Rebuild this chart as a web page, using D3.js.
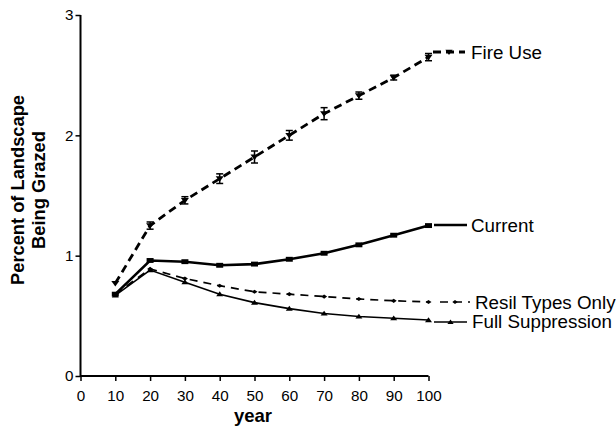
<!DOCTYPE html>
<html><head><meta charset="utf-8">
<script src="https://cdn.jsdelivr.net/npm/d3@7"></script>
<style>body{margin:0;background:#fff}</style>
</head><body>
<svg id="c" width="616" height="427"></svg>
<script>
const years = [10,20,30,40,50,60,70,80,90,100];
const fireUse = [0.77,1.25,1.46,1.64,1.82,2.00,2.18,2.33,2.48,2.65];
const fireUseErr = [0.02,0.03,0.03,0.04,0.05,0.04,0.05,0.03,0.02,0.03];
const current = [0.68,0.96,0.95,0.92,0.93,0.97,1.02,1.09,1.17,1.25];
const resil = [0.68,0.89,0.81,0.75,0.70,0.68,0.66,0.64,0.625,0.615];
const fullSupp = [0.67,0.88,0.78,0.68,0.61,0.56,0.52,0.495,0.48,0.465];
const xTicks = [0,10,20,30,40,50,60,70,80,90,100];
const yTicks = [0,1,2,3];
const seriesNames = ["Fire Use","Current","Resil Types Only","Full Suppression"];

const svg = d3.select("#c");
const x = d3.scaleLinear().domain([0,100]).range([80.5,428.5]);
const y = d3.scaleLinear().domain([0,3]).range([376,15]);

const font = "'Liberation Sans', Arial, sans-serif";

// axes
const xa = svg.append("g").attr("transform","translate(0,376)")
  .call(d3.axisBottom(x).tickValues(xTicks).tickSize(5).tickPadding(9).tickFormat(d3.format("d")));
const ya = svg.append("g").attr("transform","translate(80.5,0)")
  .call(d3.axisLeft(y).tickValues(yTicks).tickSize(5).tickPadding(2).tickFormat(d3.format("d")));
[xa,ya].forEach(a=>{
  a.select(".domain").attr("stroke","#000").attr("stroke-width",2);
  a.selectAll(".tick line").attr("stroke","#000").attr("stroke-width",1.5);
  a.selectAll("text").attr("font-family",font).attr("font-size",15.2).attr("fill","#000");
});
ya.select(".domain").attr("d","M0,377V15");
xa.select(".domain").attr("d","M80.5,0H428.5");

// titles
svg.append("text").attr("x",253).attr("y",422).attr("text-anchor","middle")
  .attr("font-family",font).attr("font-weight","bold").attr("font-size",18.5).text("year");
const yt = svg.append("text").attr("transform","translate(0,190) rotate(-90)")
  .attr("text-anchor","middle").attr("font-family",font).attr("font-weight","bold").attr("font-size",18.3);
yt.append("tspan").attr("x",0).attr("y",24).text("Percent of Landscape");
yt.append("tspan").attr("x",0).attr("y",45).text("Being Grazed");

const line = d3.line().x((d,i)=>x(years[i])).y(d=>y(d));

const series = [
  {name:seriesNames[0], v:fireUse, dash:"8,5", w:2.8, marker:"tridown", ms:4, leg:[433,465,52], tx:471, ty:58.5},
  {name:seriesNames[1], v:current, dash:null, w:2.6, marker:"square", ms:3.5, leg:[434,467,225], tx:471, ty:232},
  {name:seriesNames[2], v:resil, dash:"8,6", w:1.7, marker:"diamond", ms:3, leg:[440,470,302], tx:475, ty:308.5},
  {name:seriesNames[3], v:fullSupp, dash:null, w:1.6, marker:"triup", ms:3.5, leg:[434,467,322], tx:472, ty:328}
];

function marker(g, type, cx, cy, s){
  let p;
  if(type==="square") p=`M${cx-s},${cy-s*0.7}h${2*s}v${1.4*s}h${-2*s}z`;
  else if(type==="tridown") p=`M${cx-s},${cy-s*0.6}h${2*s}l${-s},${1.4*s}z`;
  else if(type==="triup") p=`M${cx-s},${cy+s*0.6}h${2*s}l${-s},${-1.4*s}z`;
  else p=`M${cx-s},${cy}l${s},${-s*0.7}l${s},${s*0.7}l${-s},${s*0.7}z`;
  g.append("path").attr("d",p).attr("fill","#000");
}

series.forEach(s=>{
  const g = svg.append("g");
  g.append("path").datum(s.v).attr("d",line).attr("fill","none").attr("stroke","#000")
    .attr("stroke-width",s.w).attr("stroke-dasharray",s.dash);
  s.v.forEach((d,i)=>marker(g,s.marker,x(years[i]),y(d),s.ms));
  // legend
  const [x1,x2,ly]=s.leg;
  g.append("line").attr("x1",x1).attr("x2",x2).attr("y1",ly).attr("y2",ly)
    .attr("stroke","#000").attr("stroke-width",s.w).attr("stroke-dasharray",s.dash);
  if(s.marker!=="square") marker(g,s.marker,(x1+x2)/2,ly,s.ms*0.9);
  g.append("text").attr("x",s.tx).attr("y",s.ty).attr("font-family",font).attr("font-size",18.8)
    .attr("fill","#000").text(s.name);
});

// error bars fire use
const eg = svg.append("g");
fireUse.forEach((d,i)=>{
  if(i===0) return;
  const cx=x(years[i]), y0=y(d-fireUseErr[i]), y1=y(d+fireUseErr[i]);
  eg.append("line").attr("x1",cx).attr("x2",cx).attr("y1",y0).attr("y2",y1).attr("stroke","#000").attr("stroke-width",1.5);
  [y0,y1].forEach(yy=>eg.append("line").attr("x1",cx-3.5).attr("x2",cx+3.5).attr("y1",yy).attr("y2",yy).attr("stroke","#000").attr("stroke-width",1.5));
});
</script>
</body></html>
